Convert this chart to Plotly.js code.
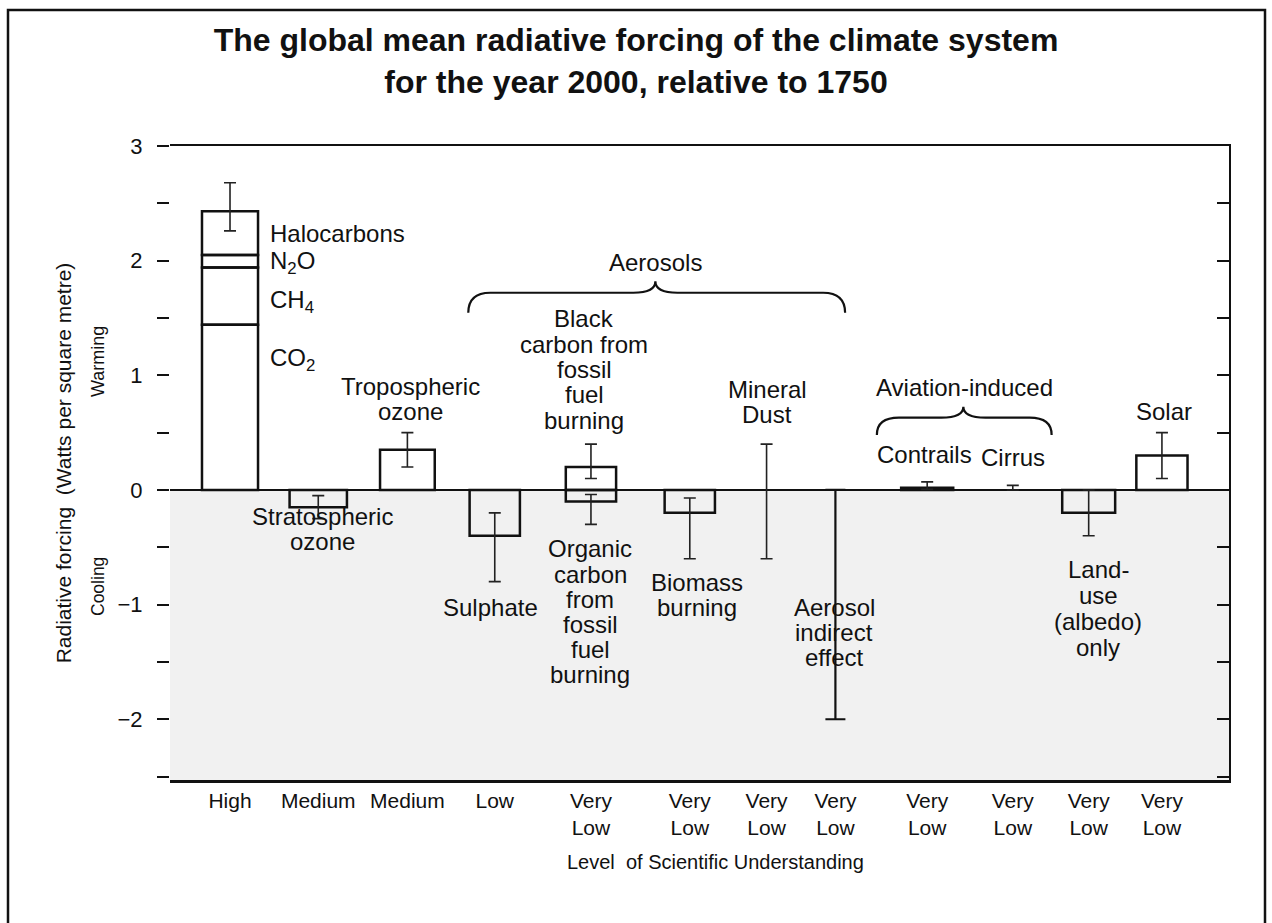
<!DOCTYPE html>
<html>
<head>
<meta charset="utf-8">
<script src="https://cdn.plot.ly/plotly-3.0.1.min.js"></script>
<style>html,body{margin:0;padding:0;background:#fff;}#chart{width:1272px;height:923px;}</style>
</head>
<body>
<div id="chart"></div>
<script>
// ---------------- DATA ----------------
const agents = ['Greenhouse gases','Stratospheric ozone','Tropospheric ozone','Sulphate',
  'Fossil fuel carbon','Biomass burning','Mineral dust','Aerosol indirect effect',
  'Contrails','Cirrus','Land-use (albedo)','Solar'];
const agentPos = [0.68, 1.68, 2.69, 3.68, 4.77, 5.89, 6.76, 7.54, 8.58, 9.55, 10.41, 11.24];
const losu = ['High','Medium','Medium','Low','Very<br>Low','Very<br>Low','Very<br>Low','Very<br>Low',
  'Very<br>Low','Very<br>Low','Very<br>Low','Very<br>Low'];

// Greenhouse gas stack (W/m2)
const ghgParts = ['CO2','CH4','N2O','Halocarbons'];
const ghgValues = [1.44, 0.50, 0.11, 0.38];

// Other best estimates (W/m2), agent index refers to agents[]
const barAgent = [1, 2, 3, 4, 4, 5, 8, 10, 11];
const barNames = ['Stratospheric ozone','Tropospheric ozone','Sulphate','Black carbon','Organic carbon',
  'Biomass burning','Contrails','Land-use (albedo)','Solar'];
const barValues = [-0.15, 0.35, -0.40, 0.20, -0.10, -0.20, 0.02, -0.20, 0.30];
const barWidths = [0.65, 0.62, 0.57, 0.57, 0.57, 0.57, 0.59, 0.60, 0.58];

// Uncertainty ranges (W/m2)
const errAgent = [0, 1, 2, 3, 4, 4, 5, 6, 8, 9, 10, 11];
const errLow  = [2.26, -0.25, 0.20, -0.80, 0.10, -0.30, -0.60, -0.60, 0.005, 0.00, -0.40, 0.10];
const errHigh = [2.68, -0.05, 0.50, -0.20, 0.40, -0.04, -0.07, 0.40, 0.07, 0.04, 0.00, 0.50];

// Aerosol indirect effect range (no best estimate)
const indirectLow = -2.0, indirectHigh = 0.0;

// ---------------- TRACES ----------------
const traces = [];
const ghgX = agentPos[0];
ghgParts.forEach((p, i) => {
  traces.push({type:'bar', x:[ghgX], y:[ghgValues[i]], width:[0.635], name:p,
    marker:{color:'rgba(0,0,0,0)', line:{color:'#111', width:2.5}}, hoverinfo:'skip', showlegend:false});
});
traces.push({type:'bar', x: barAgent.map(i => agentPos[i]), y: barValues, width: barWidths,
  customdata: barNames,
  marker:{color:'rgba(0,0,0,0)', line:{color:'#111', width:2.5}}, hoverinfo:'skip', showlegend:false});

traces.push({type:'scatter', mode:'markers', x: errAgent.map(i => agentPos[i]), y: errLow,
  marker:{size:1, color:'rgba(0,0,0,0)'},
  error_y:{type:'data', symmetric:false, array: errHigh.map((h,k)=>h-errLow[k]),
    arrayminus: errLow.map(()=>0), color:'#222', thickness:1.6, width:6},
  hoverinfo:'skip', showlegend:false});

traces.push({type:'scatter', mode:'markers', x:[agentPos[7]], y:[indirectLow],
  marker:{size:1, color:'rgba(0,0,0,0)'},
  error_y:{type:'data', symmetric:false, array:[indirectHigh-indirectLow], arrayminus:[0],
    color:'#111', thickness:2.2, width:10},
  hoverinfo:'skip', showlegend:false});

// dummy trace to bring the right-hand axis to life
traces.push({type:'scatter', mode:'markers', x:[null], y:[null], yaxis:'y2', hoverinfo:'skip', showlegend:false});

// ---------------- LAYOUT ----------------
const FONT = 'Liberation Sans, Arial, Helvetica, sans-serif';
const yTickVals = [-2, -1, 0, 1, 2, 3];
const yTickText = ['\u22122', '\u22121', '0', '1', '2', '3'];
const yHalfTicks = [-2.5, -1.5, -0.5, 0.5, 1.5, 2.5];
const yRange = [-2.53, 3];

// pixel helpers for text placement (plot area: x 170..1229, zero at 490, 114.67 px per W/m2)
const PX = p => (p - 170) / 88.25;
const PY = p => (490 - p) / 114.67;

const annotations = [];
function lines(list, cx, y0, dy, size, anchor) {
  list.forEach((t, i) => annotations.push({xref:'x', yref:'y', x:PX(cx), y:PY(y0 + i*dy), text:t,
    showarrow:false, xanchor: anchor || 'center', yanchor:'middle', font:{family:FONT, size:size||24, color:'#111'}}));
}
// greenhouse labels
lines(['Halocarbons'], 268, 234, 0, 24, 'left');
lines(['N<sub>2</sub>O'], 268, 263, 0, 24, 'left');
lines(['CH<sub>4</sub>'], 268, 302, 0, 24, 'left');
lines(['CO<sub>2</sub>'], 268, 360, 0, 24, 'left');
lines(['Tropospheric','ozone'], 410, 387, 25);
lines(['Stratospheric','ozone'], 322, 517, 25);
lines(['Aerosols'], 655, 263, 0);
lines(['Black','carbon from','fossil','fuel','burning'], 584, 319, 25.3);
lines(['Mineral','Dust'], 767, 390, 25);
lines(['Sulphate'], 490, 608, 0);
lines(['Organic','carbon','from','fossil','fuel','burning'], 590, 549, 25.2);
lines(['Biomass','burning'], 697, 583, 25);
lines(['Aerosol','indirect','effect'], 834, 608, 25);
lines(['Aviation-induced'], 964, 388, 0);
lines(['Contrails'], 924, 455, 0);
lines(['Cirrus'], 1013, 458, 0);
lines(['Land-','use','(albedo)','only'], 1098, 570, 25.7);
lines(['Solar'], 1164, 412, 0);

annotations.push({xref:'paper', yref:'paper', x:(98-170)/1059, y:(780-362)/634, text:'Warming', textangle:-90,
  showarrow:false, xanchor:'center', yanchor:'middle', font:{family:FONT, size:18, color:'#111'}});
annotations.push({xref:'paper', yref:'paper', x:(98-170)/1059, y:(780-587)/634, text:'Cooling', textangle:-90,
  showarrow:false, xanchor:'center', yanchor:'middle', font:{family:FONT, size:17.5, color:'#111'}});
annotations.push({xref:'paper', yref:'paper', x:(715-170)/1059, y:(780-862)/634,
  text:'Level\u00a0\u00a0of Scientific Understanding',
  showarrow:false, xanchor:'center', yanchor:'middle', font:{family:FONT, size:20, color:'#111'}});

const fx = p => (p - 170) / 1059, fy = p => (780 - p) / 634;
const shapes = [
  // stippled cooling half
  {type:'rect', xref:'paper', yref:'y', x0:0, x1:1, y0:yRange[0], y1:0, fillcolor:'rgba(0,0,0,0.055)', line:{width:0}, layer:'below'},
  // aerosols brace
  {type:'path', xref:'x', yref:'y', layer:'above', line:{color:'#111', width:2.2},
   path:'M 3.38,1.545 Q 3.38,1.72 3.63,1.72 L 5.25,1.72 Q 5.5,1.72 5.5,1.82 Q 5.5,1.72 5.75,1.72 L 7.4,1.72 Q 7.65,1.72 7.65,1.545'},
  // aviation brace
  {type:'path', xref:'x', yref:'y', layer:'above', line:{color:'#111', width:2.2},
   path:'M 8.01,0.48 Q 8.01,0.63 8.26,0.63 L 8.74,0.63 Q 8.99,0.63 8.99,0.725 Q 8.99,0.63 9.24,0.63 L 9.74,0.63 Q 9.99,0.63 9.99,0.48'},
  // outer frame (left, top, right)
  {type:'path', xref:'paper', yref:'paper', line:{color:'#111', width:2.5},
   path:`M ${fx(8)},${fy(925)} L ${fx(8)},${fy(10)} L ${fx(1265)},${fy(10)} L ${fx(1265)},${fy(925)}`}
];

const layout = {
  width:1272, height:923,
  margin:{l:170, r:43, t:146, b:143},
  paper_bgcolor:'#fff', plot_bgcolor:'#fff',
  font:{family:FONT, color:'#111'},
  barmode:'relative', bargap:0,
  showlegend:false,
  title:{text:'<b>The global mean radiative forcing of the climate system<br>for the year 2000, relative to 1750</b>',
    x:0.5, xanchor:'center', y:1-51/923, yanchor:'middle', font:{family:FONT, size:32, color:'#111'}},
  xaxis:{range:[0,12], tickmode:'array', tickvals: agentPos, ticktext: losu, ticks:'', showgrid:false, zeroline:false,
    showline:true, linecolor:'#111', linewidth:2.5, mirror:true, tickfont:{family:FONT, size:21, color:'#111'},
    automargin:false, fixedrange:true},
  yaxis:{range:yRange, tickmode:'array', tickvals:yTickVals, ticktext:yTickText, ticks:'outside', ticklen:12, tickwidth:2,
    tickcolor:'#111', showline:false, showgrid:false, zeroline:true, zerolinecolor:'#111', zerolinewidth:2.5,
    ticklabelstandoff:10, tickfont:{family:FONT, size:22, color:'#111'},
    title:{text:'Radiative forcing\u00a0\u00a0(Watts per square metre)', standoff:40, font:{family:FONT, size:21, color:'#111'}},
    automargin:false,
    minor:{tickmode:'array', tickvals:yHalfTicks, ticks:'outside', ticklen:12, tickwidth:2, tickcolor:'#111', showgrid:false}},
  yaxis2:{range:yRange, overlaying:'y', side:'right', anchor:'x', showline:true, linecolor:'#111', linewidth:2,
    tickmode:'array', tickvals:[-2.5,-2,-1.5,-1,-0.5,0,0.5,1,1.5,2,2.5], ticks:'inside', ticklen:12, tickwidth:2, tickcolor:'#111',
    showticklabels:false, showgrid:false, zeroline:false},
  annotations, shapes
};

Plotly.newPlot('chart', traces, layout, {displayModeBar:false, staticPlot:true});
</script>
</body>
</html>
